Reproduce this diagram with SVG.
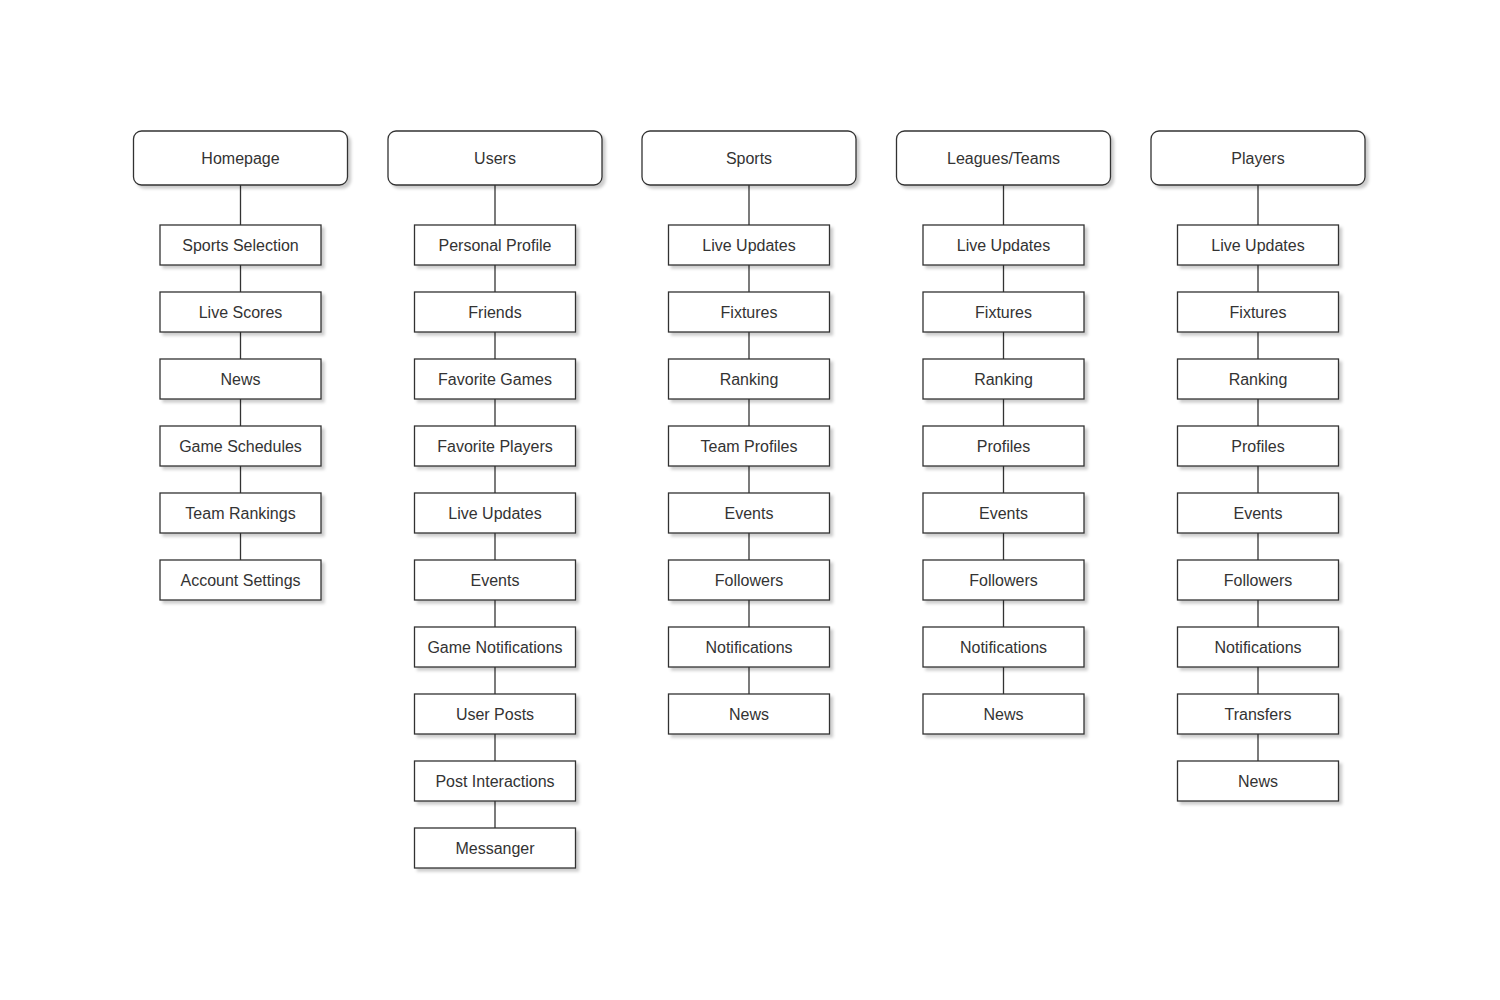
<svg xmlns="http://www.w3.org/2000/svg" width="1500" height="1000" viewBox="0 0 1500 1000">
<defs>
<filter id="sh" x="-10%" y="-10%" width="130%" height="140%"><feDropShadow dx="3" dy="3" stdDeviation="1.5" flood-color="#000" flood-opacity="0.2"/></filter>
</defs>
<style>
.h{fill:#fff;stroke:#333;stroke-width:1.3;filter:url(#sh)}
.c{fill:#fff;stroke:#333;stroke-width:1.3;filter:url(#sh)}
text{font-family:"Liberation Sans",Arial,sans-serif;font-size:16px;fill:#333;text-anchor:middle;dominant-baseline:central}
.l{stroke:#333;stroke-width:1.3}
</style>
<rect width="1500" height="1000" fill="#fff"/>
<g id="connectors">
<line class="l" x1="240.5" y1="185" x2="240.5" y2="560"/>
<line class="l" x1="495" y1="185" x2="495" y2="828"/>
<line class="l" x1="749" y1="185" x2="749" y2="694"/>
<line class="l" x1="1003.5" y1="185" x2="1003.5" y2="694"/>
<line class="l" x1="1258" y1="185" x2="1258" y2="761"/>
</g>
<g id="homepage"><rect class="h" x="133.5" y="131" width="214" height="54" rx="8"/><text x="240.5" y="158">Homepage</text></g>
<g id="users"><rect class="h" x="388" y="131" width="214" height="54" rx="8"/><text x="495" y="158">Users</text></g>
<g id="sports"><rect class="h" x="642" y="131" width="214" height="54" rx="8"/><text x="749" y="158">Sports</text></g>
<g id="leagues"><rect class="h" x="896.5" y="131" width="214" height="54" rx="8"/><text x="1003.5" y="158">Leagues/Teams</text></g>
<g id="players"><rect class="h" x="1151" y="131" width="214" height="54" rx="8"/><text x="1258" y="158">Players</text></g>

<g id="h1"><rect class="c" x="160" y="225" width="161" height="40"/><text x="240.5" y="245">Sports Selection</text></g>
<g id="h2"><rect class="c" x="160" y="292" width="161" height="40"/><text x="240.5" y="312">Live Scores</text></g>
<g id="h3"><rect class="c" x="160" y="359" width="161" height="40"/><text x="240.5" y="379">News</text></g>
<g id="h4"><rect class="c" x="160" y="426" width="161" height="40"/><text x="240.5" y="446">Game Schedules</text></g>
<g id="h5"><rect class="c" x="160" y="493" width="161" height="40"/><text x="240.5" y="513">Team Rankings</text></g>
<g id="h6"><rect class="c" x="160" y="560" width="161" height="40"/><text x="240.5" y="580">Account Settings</text></g>

<g id="u1"><rect class="c" x="414.5" y="225" width="161" height="40"/><text x="495" y="245">Personal Profile</text></g>
<g id="u2"><rect class="c" x="414.5" y="292" width="161" height="40"/><text x="495" y="312">Friends</text></g>
<g id="u3"><rect class="c" x="414.5" y="359" width="161" height="40"/><text x="495" y="379">Favorite Games</text></g>
<g id="u4"><rect class="c" x="414.5" y="426" width="161" height="40"/><text x="495" y="446">Favorite Players</text></g>
<g id="u5"><rect class="c" x="414.5" y="493" width="161" height="40"/><text x="495" y="513">Live Updates</text></g>
<g id="u6"><rect class="c" x="414.5" y="560" width="161" height="40"/><text x="495" y="580">Events</text></g>
<g id="u7"><rect class="c" x="414.5" y="627" width="161" height="40"/><text x="495" y="647">Game Notifications</text></g>
<g id="u8"><rect class="c" x="414.5" y="694" width="161" height="40"/><text x="495" y="714">User Posts</text></g>
<g id="u9"><rect class="c" x="414.5" y="761" width="161" height="40"/><text x="495" y="781">Post Interactions</text></g>
<g id="u10"><rect class="c" x="414.5" y="828" width="161" height="40"/><text x="495" y="848">Messanger</text></g>

<g id="s1"><rect class="c" x="668.5" y="225" width="161" height="40"/><text x="749" y="245">Live Updates</text></g>
<g id="s2"><rect class="c" x="668.5" y="292" width="161" height="40"/><text x="749" y="312">Fixtures</text></g>
<g id="s3"><rect class="c" x="668.5" y="359" width="161" height="40"/><text x="749" y="379">Ranking</text></g>
<g id="s4"><rect class="c" x="668.5" y="426" width="161" height="40"/><text x="749" y="446">Team Profiles</text></g>
<g id="s5"><rect class="c" x="668.5" y="493" width="161" height="40"/><text x="749" y="513">Events</text></g>
<g id="s6"><rect class="c" x="668.5" y="560" width="161" height="40"/><text x="749" y="580">Followers</text></g>
<g id="s7"><rect class="c" x="668.5" y="627" width="161" height="40"/><text x="749" y="647">Notifications</text></g>
<g id="s8"><rect class="c" x="668.5" y="694" width="161" height="40"/><text x="749" y="714">News</text></g>

<g id="l1"><rect class="c" x="923" y="225" width="161" height="40"/><text x="1003.5" y="245">Live Updates</text></g>
<g id="l2"><rect class="c" x="923" y="292" width="161" height="40"/><text x="1003.5" y="312">Fixtures</text></g>
<g id="l3"><rect class="c" x="923" y="359" width="161" height="40"/><text x="1003.5" y="379">Ranking</text></g>
<g id="l4"><rect class="c" x="923" y="426" width="161" height="40"/><text x="1003.5" y="446">Profiles</text></g>
<g id="l5"><rect class="c" x="923" y="493" width="161" height="40"/><text x="1003.5" y="513">Events</text></g>
<g id="l6"><rect class="c" x="923" y="560" width="161" height="40"/><text x="1003.5" y="580">Followers</text></g>
<g id="l7"><rect class="c" x="923" y="627" width="161" height="40"/><text x="1003.5" y="647">Notifications</text></g>
<g id="l8"><rect class="c" x="923" y="694" width="161" height="40"/><text x="1003.5" y="714">News</text></g>

<g id="p1"><rect class="c" x="1177.5" y="225" width="161" height="40"/><text x="1258" y="245">Live Updates</text></g>
<g id="p2"><rect class="c" x="1177.5" y="292" width="161" height="40"/><text x="1258" y="312">Fixtures</text></g>
<g id="p3"><rect class="c" x="1177.5" y="359" width="161" height="40"/><text x="1258" y="379">Ranking</text></g>
<g id="p4"><rect class="c" x="1177.5" y="426" width="161" height="40"/><text x="1258" y="446">Profiles</text></g>
<g id="p5"><rect class="c" x="1177.5" y="493" width="161" height="40"/><text x="1258" y="513">Events</text></g>
<g id="p6"><rect class="c" x="1177.5" y="560" width="161" height="40"/><text x="1258" y="580">Followers</text></g>
<g id="p7"><rect class="c" x="1177.5" y="627" width="161" height="40"/><text x="1258" y="647">Notifications</text></g>
<g id="p8"><rect class="c" x="1177.5" y="694" width="161" height="40"/><text x="1258" y="714">Transfers</text></g>
<g id="p9"><rect class="c" x="1177.5" y="761" width="161" height="40"/><text x="1258" y="781">News</text></g>
</svg>
